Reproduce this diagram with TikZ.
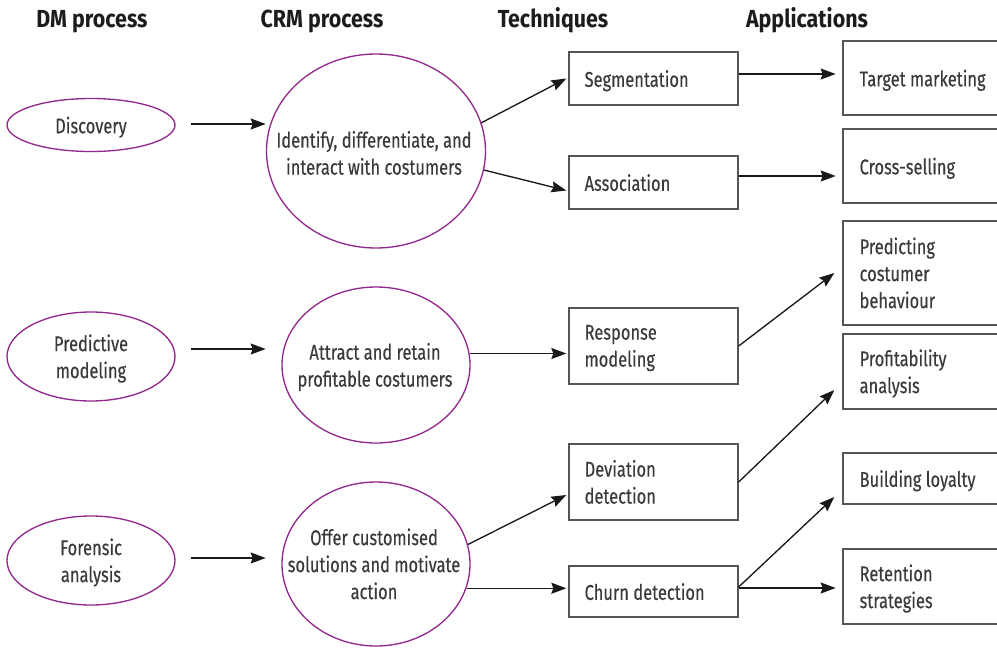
\documentclass[tikz,border=0pt]{standalone}
\usepackage{fontspec}
\setmainfont{Fira Sans}[FakeStretch=0.773, FakeBold=0.3]
\newfontfamily\hdrfont{Fira Sans}[FakeStretch=0.868]
\usetikzlibrary{shapes.geometric,arrows.meta}
\definecolor{purp}{HTML}{922A8E}
\definecolor{txt}{HTML}{3A3A3A}
\definecolor{boxc}{HTML}{555555}
\definecolor{hdrc}{HTML}{1C1C1C}
\begin{document}
\begin{tikzpicture}[x=0.75pt,y=-0.75pt,
  every node/.style={text=txt, font=\fontsize{16}{20.25}\selectfont},
  hdr/.style={text=hdrc, font=\hdrfont\fontsize{18.5}{22}\selectfont\bfseries, anchor=base, inner sep=0pt},
  oval/.style={ellipse, draw=purp, line width=1pt, inner sep=0pt},
  lbl/.style={align=center, inner sep=0pt, yshift=-2.25pt,
    execute at begin node={\rule{0pt}{0.8em}},
    execute at end node={\rule[-0.3em]{0pt}{0.3em}}},
  tlbl/.style={lbl, align=left, anchor=west},
  tbox/.style={rectangle, draw=boxc, line width=1pt, inner sep=0pt, minimum width=169*0.75pt},
  abox/.style={rectangle, draw=boxc, line width=1pt, inner sep=0pt, minimum width=174*0.75pt},
  arr/.style={draw=black!90, line width=1pt, -{Stealth[length=15*0.75pt,width=11*0.75pt,inset=2*0.75pt]}}
]
\useasboundingbox (0,0) rectangle (997,647);
\clip (0,0) rectangle (997,647);

% headers
\node[hdr] (h1) at (92,27.3) {DM process};
\node[hdr] (h2) at (322,27.3) {CRM process};
\node[hdr] (h3) at (553,27.3) {Techniques};
\node[hdr] (h4) at (807,27.3) {Applications};

% DM process ellipses
\node[oval, minimum width=168*0.75pt, minimum height=53*0.75pt] (disc) at (91,125) {};
\node[lbl] (discT) at (disc.center) {Discovery};
\node[oval, minimum width=168*0.75pt, minimum height=89*0.75pt] (pred) at (91,356.5) {};
\node[lbl] (predT) at (pred.center) {Predictive\\modeling};
\node[oval, minimum width=168*0.75pt, minimum height=89*0.75pt] (foren) at (91,560.5) {};
\node[lbl] (forenT) at (foren.center) {Forensic\\analysis};

% CRM process circles
\node[oval, minimum width=219*0.75pt, minimum height=194*0.75pt] (c1) at (376,151) {};
\node[lbl] (c1T) at (374,153) {Identify, differentiate, and\\interact with costumers};
\node[oval, minimum width=188*0.75pt, minimum height=156*0.75pt] (c2) at (376,365) {};
\node[lbl] (c2T) at (375,365) {Attract and retain\\profitable costumers};
\node[oval, minimum width=188*0.75pt, minimum height=164*0.75pt] (c3) at (376,564) {};
\node[lbl] (c3T) at (374,564) {Offer customised\\solutions and motivate\\action};

% technique boxes
\node[tbox, minimum height=53*0.75pt] (seg) at (653.5,78.5) {};
\node[tlbl] (segT) at ([xshift=12pt]seg.west) {Segmentation};
\node[tbox, minimum height=53*0.75pt] (assoc) at (653.5,182.5) {};
\node[tlbl] (assocT) at ([xshift=12pt]assoc.west) {Association};
\node[tbox, minimum height=76*0.75pt] (resp) at (653.5,346) {};
\node[tlbl] (respT) at ([xshift=12pt]resp.west) {Response\\modeling};
\node[tbox, minimum height=76*0.75pt] (dev) at (653.5,482) {};
\node[tlbl] (devT) at ([xshift=12pt]dev.west) {Deviation\\detection};
\node[tbox, minimum height=51*0.75pt] (churn) at (653.5,591.5) {};
\node[tlbl] (churnT) at ([xshift=12pt]churn.west) {Churn detection};

% application boxes
\node[abox, minimum height=74*0.75pt] (tm) at (930,78) {};
\node[tlbl] (tmT) at ([xshift=12.75pt]tm.west) {Target marketing};
\node[abox, minimum height=74*0.75pt] (cs) at (930,166) {};
\node[tlbl] (csT) at ([xshift=12.75pt]cs.west) {Cross-selling};
\node[abox, minimum height=104*0.75pt] (pcb) at (930,273) {};
\node[tlbl] (pcbT) at ([xshift=12.75pt]pcb.west) {Predicting\\costumer\\behaviour};
\node[abox, minimum height=75*0.75pt] (prof) at (930,371.5) {};
\node[tlbl] (profT) at ([xshift=12.75pt]prof.west) {Profitability\\analysis};
\node[abox, minimum height=51*0.75pt] (build) at (930,478.5) {};
\node[tlbl] (buildT) at ([xshift=12.75pt]build.west) {Building loyalty};
\node[abox, minimum height=75*0.75pt] (ret) at (930,586.5) {};
\node[tlbl] (retT) at ([xshift=12.75pt]ret.west) {Retention\\strategies};

% DM -> CRM
\draw[arr] ([shift={(15,-1)}]disc.east) -- ++(75,0);
\draw[arr] ([shift={(15,-7.5)}]pred.east) -- ++(75,0);
\draw[arr] ([shift={(15,-2.5)}]foren.east) -- ++(75,0);

% CRM -> techniques
\draw[arr] (c1.15) -- ([shift={(-2,0)}]seg.west);
\draw[arr] (c1.-10) -- ([shift={(-2,8)}]assoc.west);
\draw[arr, shorten >=1.5pt] (c2.7) -- (c2.7 -| resp.west);
\draw[arr] (c3.12) -- ([shift={(-2,13)}]dev.west);
\draw[arr, shorten >=1.5pt] (c3.-15) -- (c3.-15 -| churn.west);

% techniques -> applications
\draw[arr] ([shift={(0,-4.5)}]seg.east) -- ++(97,0);
\draw[arr] ([shift={(0,-6.5)}]assoc.east) -- ++(97,0);
\draw[arr] (resp.east) -- ([shift={(-8,0)}]pcb.west);
\draw[arr] (dev.east) -- ([shift={(-8,18.5)}]prof.west);
\draw[arr] ([shift={(0,-4.5)}]churn.east) -- ([shift={(-8,18.5)}]build.west);
\draw[arr] ([shift={(0,-3.5)}]churn.east) -- ++(97,0);
\end{tikzpicture}
\end{document}
